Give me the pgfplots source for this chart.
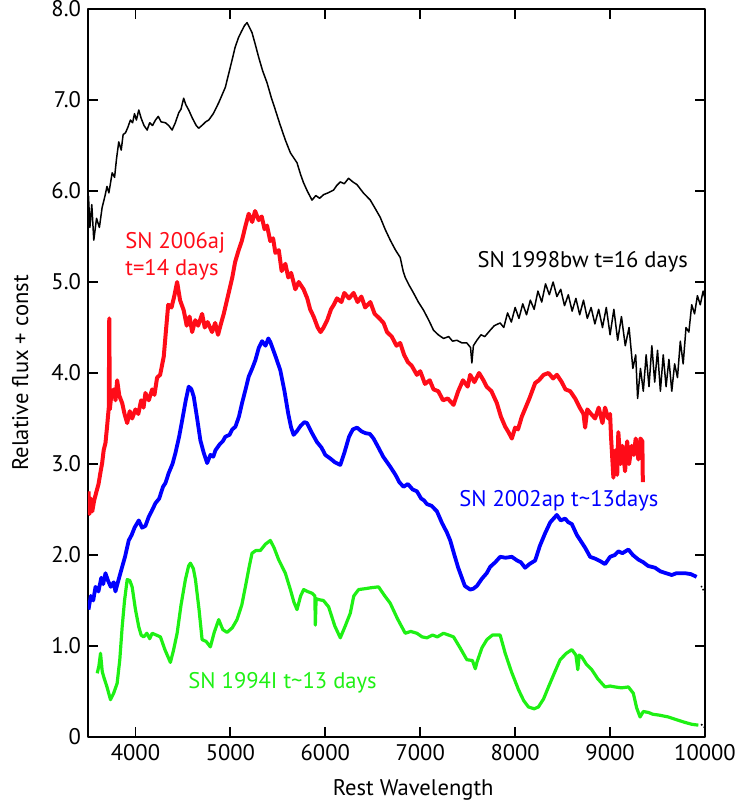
\documentclass[border=0pt]{standalone}
\usepackage{pgfplots}
\pgfplotsset{compat=1.18}
\usepackage{fontspec}
\setmainfont{PT Sans}
\definecolor{myred}{RGB}{255,12,24}
\definecolor{myblue}{RGB}{0,0,255}
\definecolor{mygreen}{RGB}{30,240,20}
\newcommand{\lf}{\fontsize{11.3bp}{13bp}\selectfont}
\begin{document}
\begin{tikzpicture}
\useasboundingbox (-44bp,-34bp) rectangle (324.5bp,368.5bp);
\begin{axis}[
  scale only axis, width=308.5bp, height=364bp,
  xmin=3500, xmax=10000, ymin=0, ymax=8,
  xtick={4000,5000,...,10000},
  xticklabels={4000,5000,6000,7000,8000,9000,10000},
  scaled ticks=false,
  ytick={0,1,...,8},
  yticklabels={0,1.0,2.0,3.0,4.0,5.0,6.0,7.0,8.0},
  /pgf/number format/assume math mode=true,
  tick align=inside, major tick length=5bp,
  axis line style={line width=1bp},
  every tick/.style={black, line width=0.9bp},
  tick label style={font=\lf},
  label style={font=\lf},
  xlabel={Rest Wavelength}, ylabel={Relative flux + const},
  x label style={at={(axis description cs:0.527,-0.073)}, anchor=center},
  y label style={at={(axis description cs:-0.110,0.5)}, anchor=center},
  line join=round,
]
% SN 1998bw (black)
\addplot[black, line width=0.75bp] coordinates {
(3505,5.95)(3520,5.60)(3540,5.85)(3561,5.46)(3590,5.70)(3620,5.60)(3649,5.82)(3680,5.95)(3700,6.05)(3720,5.98)
(3755,6.20)(3780,6.15)(3800,6.35)(3824,6.54)(3850,6.45)(3870,6.62)(3895,6.64)(3920,6.70)(3947,6.78)(3970,6.75)
(3990,6.85)(4010,6.78)(4035,6.89)(4060,6.80)(4090,6.72)(4123,6.67)(4150,6.75)(4180,6.72)(4211,6.78)(4240,6.82)
(4270,6.76)(4316,6.75)(4350,6.72)(4386,6.67)(4420,6.75)(4456,6.86)(4480,6.90)(4508,7.02)(4530,6.95)(4561,6.89)
(4600,6.80)(4640,6.72)(4666,6.69)(4700,6.72)(4740,6.76)(4772,6.78)(4820,6.85)(4877,6.97)(4910,7.05)(4947,7.14)
(4980,7.28)(5018,7.44)(5050,7.58)(5087,7.69)(5120,7.76)(5150,7.82)(5176,7.85)(5200,7.80)(5228,7.74)(5260,7.62)
(5298,7.47)(5340,7.32)(5386,7.19)(5430,7.03)(5474,6.89)(5520,6.74)(5579,6.56)(5632,6.42)(5702,6.31)(5740,6.18)
(5771,6.09)(5810,6.00)(5860,5.90)(5900,5.95)(5940,5.92)(5982,5.96)(6030,5.98)(6087,6.01)(6120,6.06)(6158,6.10)
(6200,6.08)(6245,6.14)(6290,6.10)(6334,6.07)(6400,5.98)(6474,5.90)(6530,5.80)(6579,5.71)(6630,5.58)(6684,5.46)
(6740,5.35)(6789,5.27)(6820,5.12)(6842,5.05)(6880,4.97)(6929,4.88)(6980,4.78)(7035,4.69)(7090,4.58)(7140,4.47)
(7190,4.42)(7245,4.38)(7300,4.40)(7340,4.35)(7386,4.36)(7440,4.33)(7491,4.33)(7530,4.28)(7544,4.11)(7560,4.30)
(7597,4.36)(7640,4.42)(7680,4.40)(7737,4.47)(7780,4.52)(7842,4.55)
(7880,4.50)(7920,4.66)(7960,4.56)(8000,4.72)(8040,4.60)(8080,4.76)(8120,4.64)(8160,4.80)(8200,4.70)(8240,4.90)
(8280,4.78)(8320,4.98)(8360,4.86)(8400,5.00)(8440,4.84)(8480,4.92)(8520,4.74)(8560,4.86)(8600,4.68)(8640,4.82)
(8680,4.64)(8720,4.80)(8760,4.60)(8800,4.72)(8840,4.54)(8880,4.70)(8920,4.50)(8960,4.72)(9000,4.42)(9040,4.70)
(9080,4.36)(9120,4.62)(9160,4.30)(9200,4.50)(9240,4.05)(9270,4.20)(9290,3.72)(9320,4.05)(9350,3.80)(9380,4.20)
(9410,3.85)(9440,4.30)(9470,3.90)(9500,4.25)(9530,3.80)(9560,4.20)(9590,3.85)(9620,4.15)(9650,3.80)(9680,4.10)
(9710,3.95)(9740,4.35)(9770,4.10)(9800,4.50)(9830,4.45)(9860,4.75)(9890,4.65)(9920,4.85)(9950,4.75)(9980,4.90)(10000,4.82)
};
\addplot[black, line width=0.75bp, densely dotted] coordinates {(9960,1.66)(10000,1.58)};
\addplot[black, line width=0.75bp, densely dotted] coordinates {(9960,0.14)(10000,0.10)};
% SN 2006aj (red)
\addplot[myred, line width=2bp] coordinates {
(3505,2.70)(3515,2.45)(3530,2.62)(3545,2.48)(3565,2.60)(3590,2.70)(3611,2.78)(3630,2.90)(3649,3.01)(3665,3.15)
(3684,3.23)(3700,3.40)(3719,3.62)(3724,4.60)(3730,3.60)(3745,3.75)(3772,3.82)(3790,3.70)(3807,3.92)(3830,3.75)
(3860,3.67)(3885,3.55)(3913,3.45)(3940,3.58)(3965,3.50)(4000,3.60)(4030,3.55)(4060,3.70)(4085,3.62)(4105,3.78)
(4140,3.70)(4176,3.82)(4200,3.76)(4228,3.95)(4260,3.98)(4298,4.18)(4320,4.45)(4345,4.75)(4380,4.72)(4410,4.85)
(4439,5.00)(4470,4.80)(4508,4.69)(4540,4.52)(4570,4.62)(4597,4.45)(4630,4.58)(4660,4.52)(4702,4.65)(4730,4.50)
(4760,4.56)(4807,4.45)(4840,4.55)(4870,4.42)(4895,4.52)(4930,4.65)(4982,4.88)(5020,5.05)(5050,5.22)(5087,5.35)
(5120,5.45)(5160,5.62)(5193,5.75)(5230,5.66)(5260,5.78)(5298,5.68)(5330,5.72)(5360,5.58)(5386,5.62)(5420,5.45)
(5450,5.48)(5474,5.32)(5510,5.35)(5540,5.12)(5579,5.20)(5610,5.05)(5640,5.10)(5684,4.92)(5720,5.00)(5771,4.92)
(5810,4.82)(5840,4.70)(5877,4.62)(5920,4.50)(5950,4.45)(5982,4.50)(6020,4.58)(6060,4.70)(6090,4.75)(6123,4.82)
(6170,4.78)(6200,4.88)(6250,4.82)(6298,4.88)(6340,4.78)(6380,4.84)(6420,4.72)(6474,4.78)(6520,4.65)(6570,4.60)
(6614,4.55)(6650,4.45)(6700,4.40)(6750,4.30)(6789,4.33)(6830,4.20)(6870,4.12)(6910,4.08)(6965,3.98)(7000,4.02)
(7050,3.88)(7100,3.92)(7140,3.82)(7190,3.80)(7240,3.70)(7290,3.72)(7351,3.65)(7400,3.80)(7450,3.92)(7500,3.85)
(7526,3.98)(7570,3.90)(7620,4.00)(7666,3.92)(7700,3.85)(7750,3.80)(7807,3.67)(7850,3.52)(7895,3.41)(7930,3.35)
(7965,3.28)(8000,3.40)(8030,3.38)(8070,3.52)(8110,3.62)(8150,3.72)(8211,3.89)(8250,3.92)(8300,3.98)(8351,4.00)
(8400,3.94)(8440,3.98)(8491,3.90)(8530,3.82)(8580,3.80)(8632,3.72)(8680,3.62)(8720,3.55)(8737,3.40)(8760,3.60)
(8800,3.55)(8842,3.50)(8880,3.62)(8920,3.45)(8947,3.62)(8980,3.50)(9000,3.55)(9010,3.30)(9035,2.85)(9055,3.15)
(9075,2.88)(9087,3.35)(9110,3.00)(9130,3.20)(9158,2.92)(9180,3.25)(9200,3.00)(9228,3.20)(9250,3.10)(9270,3.28)
(9298,3.05)(9320,3.28)(9340,3.25)(9345,2.80)
};
% SN 2002ap (blue)
\addplot[myblue, line width=1.9bp] coordinates {
(3505,1.40)(3530,1.55)(3555,1.50)(3579,1.65)(3610,1.60)(3640,1.75)(3660,1.68)(3684,1.80)(3710,1.72)(3740,1.65)
(3770,1.70)(3789,1.60)(3820,1.72)(3860,1.87)(3890,1.98)(3929,2.16)(3960,2.22)(3990,2.30)(4035,2.38)(4070,2.30)
(4105,2.32)(4140,2.42)(4170,2.48)(4211,2.57)(4250,2.62)(4290,2.75)(4316,2.79)(4350,2.90)(4390,3.00)(4421,3.12)
(4460,3.30)(4492,3.48)(4530,3.70)(4561,3.85)(4590,3.82)(4614,3.74)(4650,3.50)(4684,3.26)(4720,3.12)(4755,3.01)
(4790,3.10)(4820,3.08)(4842,3.15)(4890,3.22)(4920,3.25)(4947,3.30)(4990,3.32)(5020,3.38)(5053,3.41)(5090,3.52)
(5123,3.67)(5160,3.82)(5193,3.96)(5230,4.05)(5263,4.14)(5300,4.28)(5334,4.35)(5370,4.30)(5400,4.38)(5421,4.34)
(5470,4.20)(5526,4.03)(5570,3.80)(5610,3.55)(5640,3.40)(5666,3.32)(5700,3.36)(5740,3.42)(5780,3.46)(5807,3.45)
(5840,3.38)(5870,3.32)(5913,3.24)(5960,3.18)(6000,3.10)(6053,3.06)(6100,3.02)(6158,2.99)(6200,3.12)(6250,3.30)
(6290,3.38)(6334,3.40)(6380,3.36)(6420,3.34)(6470,3.33)(6508,3.28)(6560,3.18)(6610,3.08)(6684,2.97)(6740,2.88)
(6780,2.80)(6824,2.75)(6870,2.78)(6920,2.72)(6965,2.70)(7010,2.62)(7040,2.60)(7070,2.56)(7120,2.54)(7176,2.48)
(7230,2.35)(7280,2.25)(7316,2.16)(7360,2.00)(7400,1.86)(7421,1.80)(7470,1.66)(7526,1.62)(7560,1.63)(7597,1.66)
(7650,1.74)(7700,1.80)(7737,1.87)(7790,1.92)(7842,1.98)(7900,1.97)(7965,1.98)(8020,1.94)(8060,1.92)(8105,1.86)
(8150,1.90)(8211,1.94)(8260,2.10)(8316,2.24)(8370,2.36)(8439,2.44)(8480,2.38)(8526,2.40)(8560,2.36)(8597,2.34)
(8650,2.22)(8700,2.14)(8737,2.08)(8790,1.98)(8842,1.96)(8900,1.93)(8947,1.90)(9000,1.98)(9050,2.00)(9087,2.04)
(9130,2.02)(9193,2.06)(9240,2.00)(9298,1.95)(9350,1.92)(9400,1.88)(9474,1.86)(9530,1.82)(9590,1.80)(9649,1.78)
(9700,1.80)(9790,1.80)(9850,1.79)(9912,1.76)
};
% SN 1994I (green)
\addplot[mygreen, line width=1.6bp] coordinates {
(3597,0.70)(3615,0.78)(3632,0.92)(3650,0.72)(3666,0.66)(3700,0.55)(3737,0.41)(3770,0.48)(3807,0.59)(3835,0.85)
(3860,1.21)(3885,1.50)(3913,1.73)(3940,1.72)(3965,1.65)(4000,1.40)(4035,1.21)(4060,1.12)(4087,1.10)(4120,1.14)
(4150,1.08)(4176,1.14)(4220,1.12)(4263,1.10)(4310,0.96)(4368,0.82)(4400,0.95)(4439,1.14)(4480,1.45)(4526,1.73)
(4560,1.88)(4579,1.91)(4610,1.85)(4632,1.73)(4670,1.40)(4702,1.07)(4745,1.05)(4789,0.99)(4830,1.15)(4877,1.29)
(4920,1.18)(4965,1.15)(5020,1.20)(5070,1.29)(5120,1.45)(5158,1.65)(5200,1.88)(5228,2.02)(5270,2.05)(5316,2.05)
(5370,2.12)(5421,2.16)(5460,2.08)(5508,1.95)(5579,1.80)(5632,1.62)(5670,1.48)(5702,1.40)(5740,1.55)(5772,1.62)
(5810,1.60)(5860,1.58)(5890,1.55)(5895,1.23)(5903,1.52)(5930,1.51)(5980,1.50)(6035,1.43)(6100,1.22)(6158,1.09)
(6210,1.22)(6263,1.36)(6300,1.55)(6351,1.62)(6420,1.63)(6480,1.64)(6561,1.65)(6620,1.56)(6684,1.47)(6760,1.30)
(6842,1.14)(6900,1.16)(6965,1.14)(7020,1.10)(7070,1.09)(7130,1.12)(7180,1.10)(7245,1.14)(7300,1.12)(7351,1.10)
(7420,0.98)(7491,0.85)(7550,0.84)(7580,0.75)(7597,0.82)(7650,0.98)(7702,1.07)(7760,1.12)(7842,1.12)(7895,0.92)
(7960,0.72)(8035,0.52)(8090,0.40)(8140,0.33)(8200,0.31)(8245,0.33)(8300,0.42)(8351,0.55)(8420,0.72)(8474,0.85)
(8540,0.92)(8597,0.96)(8640,0.90)(8660,0.74)(8675,0.90)(8702,0.88)(8750,0.80)(8807,0.74)(8870,0.64)(8947,0.55)
(9000,0.56)(9053,0.55)(9120,0.54)(9193,0.55)(9245,0.48)(9280,0.32)(9316,0.22)(9350,0.28)(9403,0.27)(9450,0.25)
(9520,0.24)(9614,0.22)(9700,0.19)(9790,0.16)(9860,0.14)(9930,0.13)
};
\node[anchor=west, text=black, font=\lf] at (axis cs:7530,5.22) {SN 1998bw t=16 days};
\node[anchor=west, text=myred, font=\lf] at (axis cs:3820,5.43) {SN 2006aj};
\node[anchor=west, text=myred, font=\lf] at (axis cs:3820,5.13) {t=14 days};
\node[anchor=west, text=myblue, font=\lf] at (axis cs:7337,2.60) {SN 2002ap t\textasciitilde 13days};
\node[anchor=west, text=mygreen, font=\lf] at (axis cs:4484,0.60) {SN 1994I t\textasciitilde 13 days};
\end{axis}
\end{tikzpicture}
\end{document}
